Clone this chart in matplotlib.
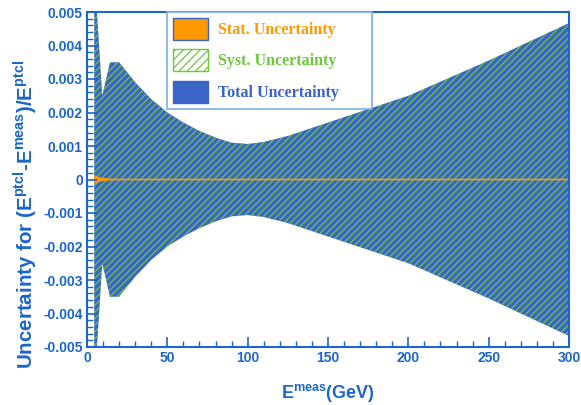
import matplotlib
matplotlib.use("Agg")
import matplotlib.pyplot as plt
import numpy as np
from matplotlib.patches import Patch
from matplotlib.ticker import MultipleLocator

plt.rcParams['mathtext.fontset'] = 'custom'
plt.rcParams['mathtext.rm'] = 'Liberation Sans:bold'
plt.rcParams['mathtext.bf'] = 'Liberation Sans:bold'
plt.rcParams['hatch.linewidth'] = 0.9

# Data
E = [4.5, 6.2, 9.5, 14.3, 20, 25, 30, 40, 50, 60, 70, 80, 90, 100, 110, 125, 150, 175, 200, 250, 300]
total = [0.006, 0.005, 0.0025, 0.0035, 0.0035, 0.0032, 0.0029, 0.0024, 0.0020, 0.0017, 0.00145,
         0.00125, 0.00110, 0.00106, 0.00112, 0.00130, 0.00170, 0.00210, 0.00250, 0.00355, 0.00467]
syst = [0.006, 0.005, 0.0025, 0.0035, 0.0035, 0.0032, 0.0029, 0.0024, 0.0020, 0.0017, 0.00145,
        0.00125, 0.00110, 0.00106, 0.00112, 0.00130, 0.00170, 0.00210, 0.00250, 0.00355, 0.00467]
stat = [0.00013, 0.00010, 0.00005, 0.00003, 0.000025, 0.000025, 0.000025, 0.000025, 0.000025, 0.000025,
        0.000025, 0.000025, 0.000025, 0.000025, 0.000025, 0.000025, 0.000025, 0.000025, 0.000025, 0.000025, 0.000025]

xticks = [0, 50, 100, 150, 200, 250, 300]
yticks = [0.005, 0.004, 0.003, 0.002, 0.001, 0, -0.001, -0.002, -0.003, -0.004, -0.005]
ytick_labels = ['0.005', '0.004', '0.003', '0.002', '0.001', '0', '-0.001', '-0.002', '-0.003', '-0.004', '-0.005']

axis_blue = '#1a66cc'
band_blue = '#3a64c8'
orange = '#ff9900'
green = '#6cc83c'

E_a = np.array(E)
tot = np.array(total)
sy = np.array(syst)
st = np.array(stat)

fig = plt.figure(figsize=(5.81, 4.05), dpi=100)
ax = fig.add_axes([87/581, (405-347)/405, 482/581, 335/405])

ax.fill_between(E_a, -tot, tot, facecolor=band_blue, edgecolor='none', linewidth=0)
ax.fill_between(E_a, -sy, sy, facecolor='none', edgecolor=green, hatch='/////', linewidth=0)
ax.fill_between(E_a, -st, st, facecolor=orange, edgecolor='none', linewidth=0)

ax.set_xlim(0, 300)
ax.set_ylim(-0.005, 0.005)

ax.set_xticks(xticks)
ax.set_xticklabels([str(t) for t in xticks])
ax.set_yticks(yticks)
ax.set_yticklabels(ytick_labels)
ax.xaxis.set_minor_locator(MultipleLocator(10))
ax.yaxis.set_minor_locator(MultipleLocator(0.0002))

for s in ax.spines.values():
    s.set_color(axis_blue)
    s.set_linewidth(1.5)

ax.tick_params(axis='both', which='both', direction='in', colors=axis_blue,
               top=False, right=False)
ax.tick_params(axis='both', which='major', length=7, width=1.2, pad=3)
ax.tick_params(axis='both', which='minor', length=4, width=1.0)
for lab in ax.get_xticklabels() + ax.get_yticklabels():
    lab.set_fontfamily('Liberation Sans')
    lab.set_fontweight('bold')
    lab.set_fontsize(10)
    lab.set_color(axis_blue)

ax.set_xlabel(r'E$^{\mathbf{meas}}$(GeV)', fontsize=13, fontweight='bold',
              family='Liberation Sans', color=axis_blue)
ax.xaxis.set_label_coords(0.5, -0.105)
ax.set_ylabel(r'Uncertainty for (E$^{\mathbf{ptcl}}$-E$^{\mathbf{meas}}$)/E$^{\mathbf{ptcl}}$',
              fontsize=14.8, fontweight='bold', family='Liberation Sans', color=axis_blue)
ax.yaxis.set_label_coords(-0.099, 0.397)

handles = [Patch(facecolor=orange, edgecolor=band_blue, linewidth=1),
           Patch(facecolor='white', edgecolor=green, hatch='////', linewidth=1),
           Patch(facecolor=band_blue, edgecolor=band_blue, linewidth=1)]
labels = ['Stat. Uncertainty', 'Syst. Uncertainty', 'Total Uncertainty']
leg = ax.legend(handles, labels, loc='upper left', bbox_to_anchor=(0.166, 0.5, 0.425, 0.5),
                mode='expand',
                prop={'family': 'Liberation Serif', 'weight': 'bold', 'size': 11.5},
                handlelength=2.2, handleheight=1.75, labelspacing=0.6, borderpad=0.35,
                handletextpad=0.65, borderaxespad=0, fancybox=False, framealpha=1)
leg.get_frame().set_edgecolor('#7aaee8')
leg.get_frame().set_linewidth(1.2)
for t, c in zip(leg.get_texts(), [orange, green, band_blue]):
    t.set_color(c)

fig.savefig('out.png', dpi=100)
